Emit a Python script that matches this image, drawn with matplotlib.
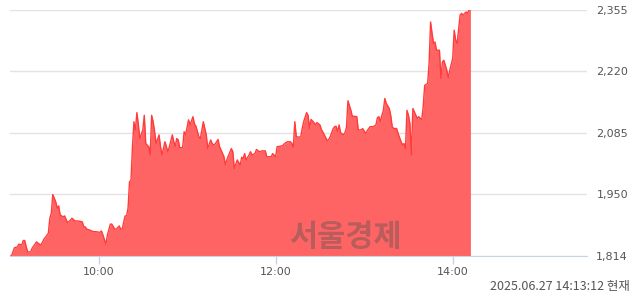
import matplotlib.pyplot as plt

# 분 단위 (09:00 기준) / 가격
minutes = [0, 1, 3, 5, 6, 8, 9, 10, 11, 12, 14, 15, 18, 19, 21, 23, 24, 26, 27, 28, 29,
           31, 32, 33, 34, 36, 37, 39, 41, 42, 44, 46, 49, 50, 51, 52, 54, 56, 59, 61,
           62, 63, 65, 66, 68, 69, 71, 72, 74, 75, 76, 78, 79, 80, 81, 82, 83, 84, 85,
           86, 87, 88, 90, 91, 92, 94, 95, 96, 97, 98, 99, 101, 102, 103, 105, 106, 107,
           108, 110, 111, 112, 113, 114, 115, 117, 118, 119, 121, 122, 124, 125, 126,
           128, 129, 131, 132, 133, 134, 136, 137, 138, 139, 141, 142, 143, 145, 146,
           147, 148, 150, 151, 152, 154, 156, 157, 158, 159, 160, 162, 163, 164, 166,
           167, 169, 171, 173, 174, 177, 178, 180, 181, 183, 185, 186, 188, 190, 191,
           192, 193, 194, 196, 197, 198, 199, 201, 202, 203, 204, 206, 207, 208, 210,
           211, 213, 215, 216, 217, 219, 220, 221, 222, 223, 224, 226, 227, 228, 229,
           231, 232, 233, 235, 236, 238, 239, 241, 242, 244, 246, 248, 249, 250, 251,
           252, 253, 254, 255, 257, 258, 259, 260, 262, 263, 265, 266, 267, 268, 269,
           270, 271, 272, 273, 275, 276, 277, 279, 280, 281, 283, 284, 285, 286, 287,
           288, 289, 291, 292, 293, 294, 296, 297, 298, 300, 301, 302, 303, 305, 306,
           307, 309, 310, 311, 312]
prices = [1814, 1814, 1832, 1834, 1840, 1838, 1848, 1848, 1834, 1823, 1823, 1831, 1845,
          1842, 1838, 1851, 1855, 1864, 1897, 1908, 1949, 1933, 1919, 1924, 1904, 1900,
          1902, 1887, 1893, 1897, 1891, 1891, 1889, 1878, 1878, 1873, 1871, 1868, 1867,
          1866, 1869, 1860, 1840, 1860, 1884, 1884, 1873, 1873, 1880, 1873, 1873, 1902,
          1902, 1919, 1977, 1981, 2054, 2109, 2091, 2129, 2102, 2072, 2091, 2123, 2061,
          2054, 2036, 2123, 2109, 2087, 2061, 2080, 2054, 2036, 2065, 2054, 2043, 2054,
          2080, 2065, 2055, 2072, 2069, 2052, 2052, 2087, 2080, 2113, 2102, 2120, 2104,
          2099, 2076, 2072, 2109, 2094, 2080, 2050, 2069, 2061, 2058, 2060, 2070, 2054,
          2047, 2032, 2014, 2026, 2034, 2050, 2043, 2006, 2025, 2014, 2031, 2028, 2039,
          2025, 2036, 2043, 2036, 2039, 2048, 2043, 2045, 2045, 2032, 2032, 2039, 2032,
          2054, 2055, 2057, 2061, 2065, 2065, 2061, 2053, 2109, 2076, 2075, 2076, 2094,
          2109, 2129, 2123, 2094, 2114, 2107, 2102, 2107, 2102, 2092, 2080, 2067, 2070,
          2076, 2094, 2098, 2099, 2087, 2102, 2085, 2080, 2085, 2096, 2155, 2134, 2120,
          2121, 2120, 2091, 2091, 2094, 2083, 2089, 2098, 2098, 2102, 2118, 2120, 2109,
          2123, 2134, 2160, 2149, 2138, 2123, 2098, 2094, 2094, 2083, 2065, 2058, 2061,
          2050, 2134, 2123, 2105, 2036, 2138, 2123, 2116, 2120, 2113, 2142, 2189, 2193,
          2237, 2328, 2303, 2281, 2284, 2266, 2266, 2204, 2240, 2244, 2222, 2206, 2222,
          2248, 2310, 2288, 2281, 2343, 2347, 2343, 2350, 2347, 2354, 2355]

y_ticks = [1814, 1950, 2085, 2220, 2355]
x_ticks = [60, 180, 300]
x_labels = ['10:00', '12:00', '14:00']

fig = plt.figure(figsize=(6.4, 2.94), dpi=100)
ax = fig.add_axes([0.0156, 0.1293, 0.9016, 0.8377])

ax.fill_between(minutes, prices, 1814, color='#ff6464', linewidth=0, zorder=2)
ax.plot(minutes, prices, color='#ff3c3c', linewidth=1, zorder=3)

ax.set_xlim(0, 391)
ax.set_ylim(1814, 2355)

ax.set_yticks(y_ticks)
ax.set_yticklabels([f'{v:,}' for v in y_ticks])
ax.yaxis.tick_right()
ax.tick_params(axis='y', length=0, pad=29.5, labelsize=8, labelcolor='#555555')
for lab in ax.get_yticklabels():
    lab.set_horizontalalignment('right')
ax.grid(axis='y', color='#e3e3e3', linewidth=1, zorder=1)

ax.set_xticks(x_ticks)
ax.set_xticklabels(x_labels)
ax.tick_params(axis='x', length=6, width=1, color='#c8d2e6', labelsize=8,
               labelcolor='#555555', pad=2)

for s in ['top', 'left', 'right']:
    ax.spines[s].set_visible(False)
ax.spines['bottom'].set_color('#c8d2e6')
ax.spines['bottom'].set_zorder(4)

# 워터마크
ax.text(0.582, 0.078, '서울경제', transform=ax.transAxes, ha='center', va='center',
        fontsize=22, fontweight='bold', color='#505050', alpha=0.4,
        family=['Noto Sans CJK KR', 'DejaVu Sans'], zorder=5)

fig.text(0.984, 0.024, '2025.06.27 14:13:12 현재', ha='right', va='center',
         fontsize=9, color='#555555', family=['Noto Sans CJK KR', 'DejaVu Sans'])

fig.savefig('out.png', dpi=100)
